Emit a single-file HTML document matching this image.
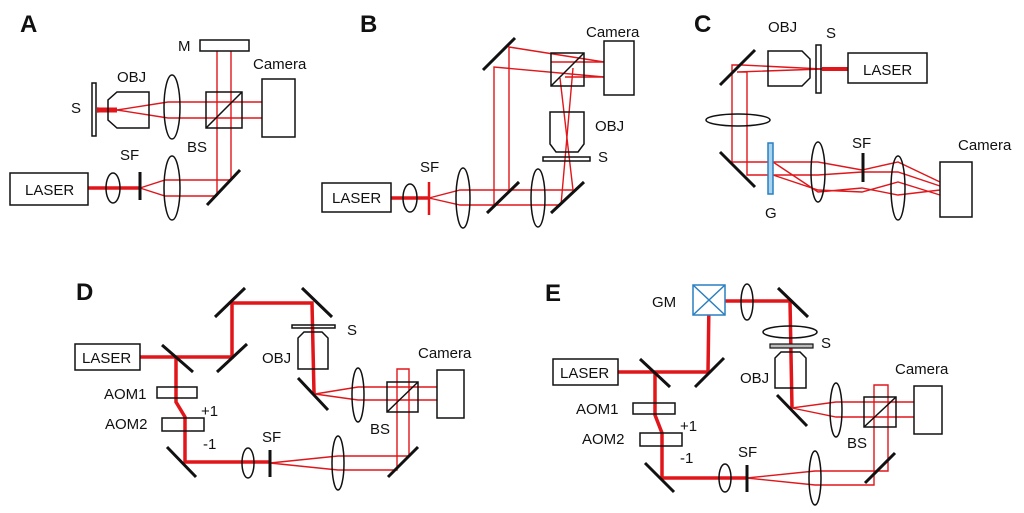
<!DOCTYPE html>
<html><head><meta charset="utf-8"><style>
html,body{margin:0;padding:0;background:#fff;}
svg{display:block;}
text{font-family:"Liberation Sans",sans-serif;font-size:15px;fill:#111;}
.L{font-size:24px;font-weight:bold;}
.k{fill:none;stroke:#111;stroke-width:1.5;}
.m{stroke:#111;stroke-width:3;}
.r{fill:none;stroke:#e0161b;stroke-width:1.4;}
.R{fill:none;stroke:#e0161b;stroke-width:3.5;}
.w{fill:#fff;stroke:#111;stroke-width:1.5;}
</style></head><body>
<svg width="1024" height="513" viewBox="0 0 1024 513" xmlns="http://www.w3.org/2000/svg">
<!-- Panel A -->
<text class="L" x="20" y="32">A</text>
<polyline class="r" points="217,51 217,196"/>
<polyline class="r" points="231,51 231,180"/>
<polyline class="r" points="97,112 117,110 168,102 262,102"/>
<polyline class="r" points="97,108 117,110 168,118 262,118"/>
<line class="R" x1="97" y1="110" x2="117" y2="110" style="stroke-width:5"/>
<polyline class="R" points="88,188 140,188"/>
<polyline class="r" points="140,188 165,180 231,180"/>
<polyline class="r" points="140,188 165,196 217,196"/>
<rect class="k" x="200" y="40" width="49" height="11"/>
<rect class="k" x="262" y="79" width="33" height="58"/>
<rect class="k" x="206" y="92" width="36" height="36"/>
<line class="k" x1="206" y1="128" x2="242" y2="92"/>
<rect class="k" x="92" y="83" width="4" height="53"/>
<path class="k" d="M117,92 H149 V128 H117 L108,120 V100 Z"/>
<ellipse class="k" cx="172" cy="107" rx="8" ry="32"/>
<ellipse class="k" cx="172" cy="188" rx="8" ry="32"/>
<ellipse class="k" cx="113" cy="188" rx="7" ry="15"/>
<line class="m" x1="140" y1="172" x2="140" y2="200"/>
<line class="m" x1="207" y1="205" x2="240" y2="170"/>
<rect class="k" x="10" y="173" width="78" height="32"/>
<text x="25" y="195">LASER</text>
<text x="178" y="51">M</text>
<text x="253" y="69">Camera</text>
<text x="117" y="82">OBJ</text>
<text x="71" y="113">S</text>
<text x="187" y="152">BS</text>
<text x="120" y="160">SF</text>
<!-- Panel B -->
<text class="L" x="360" y="32">B</text>
<polyline class="r" points="494,205 494,67 604,77"/>
<polyline class="r" points="509,190 509,47 604,62"/>
<line class="r" x1="551" y1="62" x2="604" y2="62"/>
<line class="r" x1="565" y1="77" x2="604" y2="77"/>
<line class="r" x1="560" y1="78" x2="573" y2="190"/>
<line class="r" x1="573" y1="68" x2="561" y2="205"/>
<polyline class="R" points="391,198 429,198"/>
<polyline class="r" points="429,198 460,190 573,190"/>
<polyline class="r" points="429,198 460,205 561,205"/>
<rect class="k" x="604" y="41" width="30" height="54"/>
<rect class="k" x="551" y="53" width="33" height="33"/>
<line class="k" x1="551" y1="86" x2="584" y2="53"/>
<line class="m" x1="483" y1="70" x2="515" y2="38"/>
<path class="k" d="M550,112 H584 V144 L578,152 H556 L550,144 Z"/>
<rect class="k" x="543" y="157" width="47" height="4"/>
<line class="m" x1="487" y1="213" x2="519" y2="182"/>
<line class="m" x1="551" y1="213" x2="584" y2="182"/>
<ellipse class="k" cx="410" cy="198" rx="7" ry="14"/>
<ellipse class="k" cx="463" cy="198" rx="7" ry="30"/>
<ellipse class="k" cx="538" cy="198" rx="7" ry="29"/>
<line x1="429" y1="182" x2="429" y2="215" stroke="#e0161b" stroke-width="2.5"/>
<rect class="k" x="322" y="183" width="69" height="29"/>
<text x="332" y="203">LASER</text>
<text x="420" y="172">SF</text>
<text x="595" y="131">OBJ</text>
<text x="598" y="162">S</text>
<text x="586" y="37">Camera</text>
<!-- Panel C -->
<text class="L" x="694" y="32">C</text>
<line class="R" x1="822" y1="69" x2="848" y2="69" style="stroke-width:4"/>
<polyline class="r" points="822,69 742,65 732,65 732,162 771,162"/>
<polyline class="r" points="822,69 737,72 747,72 747,175 771,175"/>
<polyline class="r" points="773,162 818,162 862,170 898,162 940,182"/>
<polyline class="r" points="773,162 818,192 862,188 898,195 940,190"/>
<polyline class="r" points="773,175 818,175 862,172 898,172 940,186"/>
<polyline class="r" points="773,175 818,190 862,192 898,182 940,195"/>
<path class="k" d="M768,51 H802 L810,59 V78 L802,86 H768 Z"/>
<rect class="k" x="816" y="45" width="5" height="48"/>
<rect class="k" x="848" y="53" width="79" height="30"/>
<text x="863" y="75">LASER</text>
<line class="m" x1="720" y1="85" x2="755" y2="50"/>
<ellipse class="k" cx="738" cy="120" rx="32" ry="6"/>
<line class="m" x1="720" y1="152" x2="755" y2="187"/>
<rect x="768" y="143" width="5" height="51" fill="#a8d4f0" stroke="#2a7fc0" stroke-width="1.5"/>
<ellipse class="k" cx="818" cy="172" rx="7" ry="30"/>
<line class="m" x1="863" y1="153" x2="863" y2="182"/>
<ellipse class="k" cx="898" cy="188" rx="7" ry="32"/>
<rect class="k" x="940" y="162" width="32" height="55"/>
<text x="768" y="32">OBJ</text>
<text x="826" y="38">S</text>
<text x="852" y="148">SF</text>
<text x="765" y="218">G</text>
<text x="958" y="150">Camera</text>
<!-- Panel D -->
<text class="L" x="76" y="300">D</text>
<polyline class="R" points="140,357 232,357 232,303 312,303 314,393"/>
<polyline class="R" points="176,357 176,402 185,417 185,462 269,462"/>
<polyline class="r" points="312,320 315,394 358,387 437,387"/>
<polyline class="r" points="315,394 358,400 437,400"/>
<polyline class="r" points="270,463 338,456 409,456 409,369 397,369 397,470 338,470 270,463"/>
<rect class="k" x="75" y="344" width="65" height="26"/>
<text x="82" y="363">LASER</text>
<line class="m" x1="162" y1="345" x2="193" y2="372"/>
<line class="m" x1="217" y1="372" x2="247" y2="344"/>
<line class="m" x1="215" y1="317" x2="245" y2="288"/>
<line class="m" x1="302" y1="288" x2="332" y2="317"/>
<rect class="k" x="292" y="325" width="43" height="3"/>
<path class="k" d="M304,332 H322 L328,338 V369 H298 V338 Z"/>
<line class="m" x1="298" y1="378" x2="328" y2="410"/>
<ellipse class="k" cx="358" cy="395" rx="6" ry="27"/>
<rect class="k" x="387" y="382" width="31" height="30"/>
<line class="k" x1="387" y1="412" x2="418" y2="382"/>
<rect class="k" x="437" y="370" width="27" height="48"/>
<rect class="k" x="157" y="387" width="40" height="11"/>
<rect class="k" x="162" y="418" width="42" height="13"/>
<line class="m" x1="167" y1="447" x2="196" y2="477"/>
<ellipse class="k" cx="248" cy="463" rx="6" ry="15"/>
<line class="m" x1="270" y1="450" x2="270" y2="477"/>
<ellipse class="k" cx="338" cy="463" rx="6" ry="27"/>
<line class="m" x1="388" y1="477" x2="418" y2="447"/>
<text x="347" y="335">S</text>
<text x="262" y="363">OBJ</text>
<text x="418" y="358">Camera</text>
<text x="370" y="434">BS</text>
<text x="104" y="399">AOM1</text>
<text x="105" y="429">AOM2</text>
<text x="201" y="416">+1</text>
<text x="203" y="449">-1</text>
<text x="262" y="442">SF</text>
<!-- Panel E -->
<text class="L" x="545" y="301">E</text>
<polyline class="R" points="618,372 708,372 709,301 790,301 792,408"/>
<polyline class="R" points="655,372 655,415 662,433 662,478 747,478"/>
<polyline class="r" points="790,340 792,408 836,402 914,402"/>
<polyline class="r" points="792,408 836,417 914,417"/>
<polyline class="r" points="747,478 815,471 888,471 888,385 874,385 874,485 815,485 747,478"/>
<rect x="693" y="285" width="32" height="30" fill="#fff" stroke="#2a7fc0" stroke-width="1.5"/>
<line x1="693" y1="285" x2="725" y2="315" stroke="#2a7fc0" stroke-width="1.5"/>
<line x1="725" y1="285" x2="693" y2="315" stroke="#2a7fc0" stroke-width="1.5"/>
<ellipse class="k" cx="747" cy="302" rx="6" ry="18"/>
<line class="m" x1="778" y1="288" x2="808" y2="317"/>
<ellipse class="k" cx="790" cy="332" rx="27" ry="6"/>
<rect x="770" y="344" width="43" height="4" fill="#bbb" stroke="#111" stroke-width="1.2"/>
<path class="k" d="M781,352 H800 L806,358 V388 H775 V358 Z"/>
<line class="m" x1="777" y1="395" x2="807" y2="426"/>
<ellipse class="k" cx="836" cy="410" rx="6" ry="27"/>
<rect class="k" x="864" y="397" width="32" height="30"/>
<line class="k" x1="864" y1="427" x2="896" y2="397"/>
<rect class="k" x="914" y="386" width="28" height="48"/>
<rect class="k" x="553" y="359" width="65" height="26"/>
<text x="560" y="378">LASER</text>
<line class="m" x1="640" y1="359" x2="670" y2="387"/>
<line class="m" x1="695" y1="387" x2="724" y2="358"/>
<rect class="k" x="633" y="403" width="42" height="11"/>
<rect class="k" x="640" y="433" width="42" height="13"/>
<line class="m" x1="645" y1="463" x2="674" y2="492"/>
<ellipse class="k" cx="725" cy="478" rx="6" ry="14"/>
<line class="m" x1="747" y1="465" x2="747" y2="492"/>
<ellipse class="k" cx="815" cy="478" rx="6" ry="27"/>
<line class="m" x1="865" y1="483" x2="895" y2="453"/>
<text x="652" y="307">GM</text>
<text x="821" y="348">S</text>
<text x="740" y="383">OBJ</text>
<text x="895" y="374">Camera</text>
<text x="847" y="448">BS</text>
<text x="576" y="414">AOM1</text>
<text x="582" y="444">AOM2</text>
<text x="680" y="431">+1</text>
<text x="680" y="463">-1</text>
<text x="738" y="457">SF</text>
</svg>
</body></html>
